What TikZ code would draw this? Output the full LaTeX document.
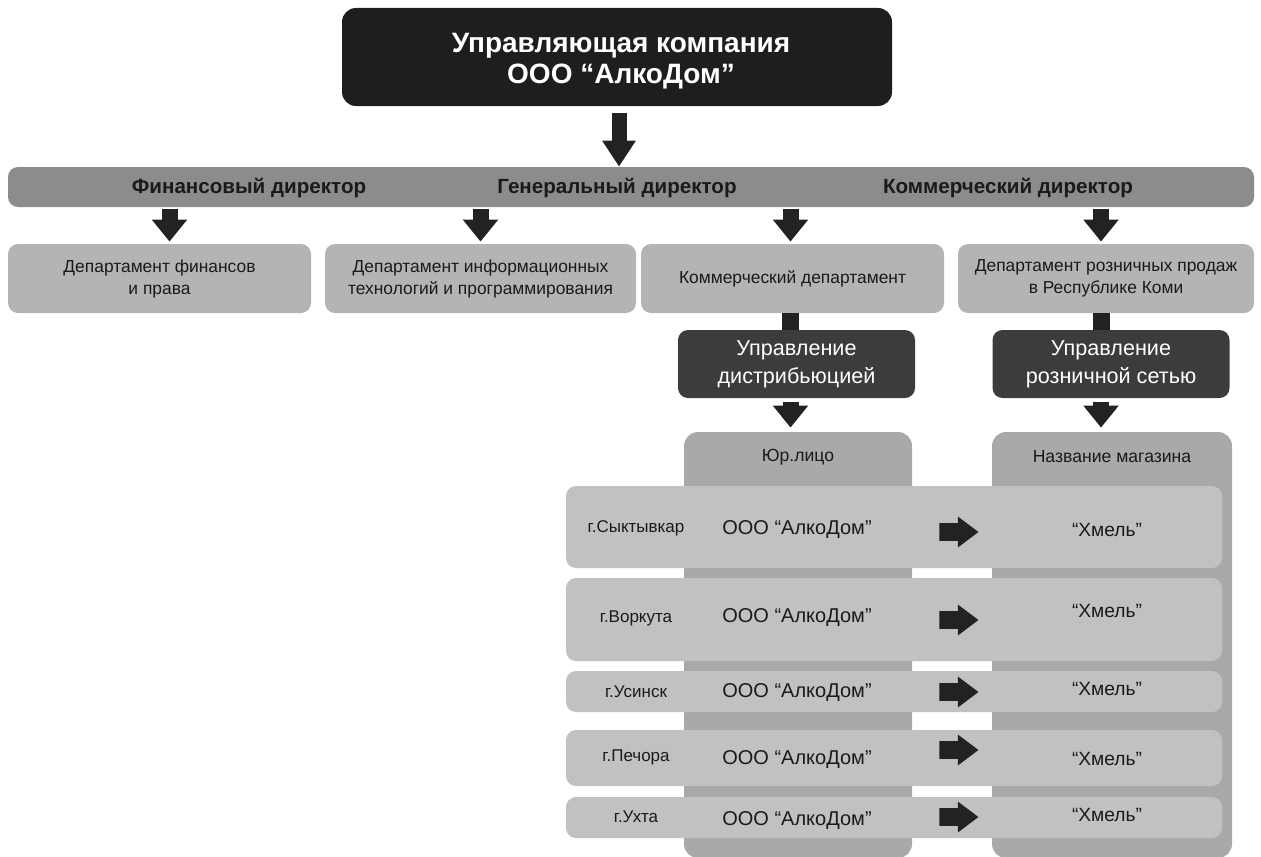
\documentclass[tikz,border=0pt]{standalone}
\usepackage{fontspec}
\setmainfont{Liberation Sans}
\usetikzlibrary{arrows.meta,shapes.arrows,positioning}
\definecolor{companyblack}{HTML}{1E1E1E}
\definecolor{boardgray}{HTML}{8C8C8C}
\definecolor{deptgray}{HTML}{B4B4B4}
\definecolor{mgmtgray}{HTML}{3C3C3C}
\definecolor{colgray}{HTML}{A9A9A9}
\definecolor{rowgray}{HTML}{C1C1C1}
\definecolor{arrowblack}{HTML}{222222}
\definecolor{ink}{HTML}{1A1A1A}
\tikzset{>=stealth,
  company/.style={fill=companyblack, rounded corners=7pt, minimum width=275pt, minimum height=49pt},
  companytitle/.style={text=white, align=center, font=\fontsize{14}{15.5}\selectfont\bfseries},
  board/.style={fill=boardgray, rounded corners=5pt, minimum width=623pt, minimum height=20pt},
  director/.style={text=ink, font=\fontsize{10.3}{12}\selectfont\bfseries},
  dept/.style={fill=deptgray, rounded corners=5pt, text=ink, align=center,
    font=\fontsize{8.7}{11}\selectfont, minimum height=34.5pt},
  mgmt/.style={fill=mgmtgray, rounded corners=5pt, text=white, align=center,
    font=\fontsize{10.8}{14}\selectfont, minimum width=118.5pt, minimum height=34pt},
  column/.style={fill=colgray, rounded corners=7pt, minimum height=213pt},
  header/.style={text=ink, font=\fontsize{8.8}{10}\selectfont},
  cityrow/.style={fill=rowgray, rounded corners=5pt, minimum width=328pt},
  city/.style={text=ink, font=\fontsize{8.5}{10}\selectfont},
  firm/.style={text=ink, font=\fontsize{10}{12}\selectfont},
  shop/.style={text=ink, font=\fontsize{9.6}{12}\selectfont},
  rowarrow/.style={single arrow, fill=arrowblack, inner sep=4.25pt, minimum height=19.5pt,
    single arrow head extend=3.25pt, single arrow tip angle=74},
  downarrow/.style={arrowblack, line width=8pt, -{Triangle[width=17pt,length=11pt]}},
  shaft/.style={arrowblack, line width=8.5pt}
}

\begin{document}
\begin{tikzpicture}[x=0.5pt,y=-0.5pt]
    \useasboundingbox (0,0) rectangle (1261,856);

    \node[company] (uk) at (617,57) {};
    \node[companytitle] (ukname) at (621,61) {Управляющая компания\\ООО “АлкоДом”};
    \node[board] (board) at (631,187) {};
    \node[director] (fin) at (249,188) {Финансовый директор};
    \node[director] (gen) at (617,188) {Генеральный директор};
    \node[director] (com) at (1008,188) {Коммерческий директор};

    \node[dept, minimum width=151.5pt] (d1) at (159.5,278.5) {Департамент финансов\\и права};
    \node[dept, minimum width=155.5pt] (d2) at (480.5,278.5) {Департамент информационных\\технологий и программирования};
    \node[dept, minimum width=151.5pt] (d3) at (792.5,278.5) {Коммерческий департамент};
    \node[dept, minimum width=148pt] (d4) at (1106,278.5) {Департамент розничных продаж\\в Республике Коми};

    \node[mgmt] (m1) at (796.5,364) {Управление\\дистрибьюцией};
    \node[mgmt] (m2) at (1111,364) {Управление\\розничной сетью};

    \node[column, minimum width=114pt] (c1) at (798,645) {};
    \node[column, minimum width=120pt] (c2) at (1112,645) {};
    \node[header] (h1) at (798,457) {Юр.лицо};
    \node[header] (h2) at (1112,457) {Название магазина};

    % arrows
    \draw[downarrow, line width=7.5pt, -{Triangle[width=16pt,length=13pt]}, shorten <=3.5pt] ([xshift=1pt]uk.south) -- ([xshift=1pt]uk.south |- board.north);
    \draw[downarrow, shorten <=1pt, shorten >=1pt] ([xshift=5pt]d1.north |- board.south) -- ([xshift=5pt]d1.north);
    \draw[downarrow, shorten <=1pt, shorten >=1pt] (d2.north |- board.south) -- (d2.north);
    \draw[downarrow, shorten <=1pt, shorten >=1pt] ([xshift=-1pt]d3.north |- board.south) -- ([xshift=-1pt]d3.north);
    \draw[downarrow, shorten <=1pt, shorten >=1pt] ([xshift=-2.5pt]d4.north |- board.south) -- ([xshift=-2.5pt]d4.north);
    \draw[shaft] ([xshift=-1pt]d3.south) -- ([xshift=-1pt]d3.south |- m1.north);
    \draw[shaft] ([xshift=-2.5pt]d4.south) -- ([xshift=-2.5pt]d4.south |- m2.north);
    \draw[downarrow, shorten <=2pt, shorten >=2pt] ([xshift=-3pt]m1.south) -- ([xshift=-3pt]m1.south |- c1.north);
    \draw[downarrow, shorten <=2pt, shorten >=2pt] ([xshift=-5pt]m2.south) -- ([xshift=-5pt]m2.south |- c2.north);

    % rows
    \node[cityrow, minimum height=41pt] (r1) at (894,527) {};
    \node[city] (g1) at (636,528) {г.Сыктывкар};
    \node[firm] (f1) at (797,530) {ООО “АлкоДом”};
    \node[rowarrow] (a1) at (953,532) {};
    \node[shop] (s1) at (1107,530) {“Хмель”};

    \node[cityrow, minimum height=41.5pt] (r2) at (894,619.5) {};
    \node[city] (g2) at (636,618) {г.Воркута};
    \node[firm] (f2) at (797,618) {ООО “АлкоДом”};
    \node[rowarrow] (a2) at (953,620) {};
    \node[shop] (s2) at (1107,611) {“Хмель”};

    \node[cityrow, minimum height=20.5pt] (r3) at (894,691.5) {};
    \node[city] (g3) at (636,692) {г.Усинск};
    \node[firm] (f3) at (797,692) {ООО “АлкоДом”};
    \node[rowarrow] (a3) at (953,692) {};
    \node[shop] (s3) at (1107,689) {“Хмель”};

    \node[cityrow, minimum height=28pt] (r4) at (894,758) {};
    \node[city] (g4) at (636,757) {г.Печора};
    \node[firm] (f4) at (797,759) {ООО “АлкоДом”};
    \node[rowarrow] (a4) at (953,750) {};
    \node[shop] (s4) at (1107,759) {“Хмель”};

    \node[cityrow, minimum height=20.5pt] (r5) at (894,817.5) {};
    \node[city] (g5) at (636,817) {г.Ухта};
    \node[firm] (f5) at (797,820) {ООО “АлкоДом”};
    \node[rowarrow] (a5) at (953,817) {};
    \node[shop] (s5) at (1107,815) {“Хмель”};
\end{tikzpicture}
\end{document}
